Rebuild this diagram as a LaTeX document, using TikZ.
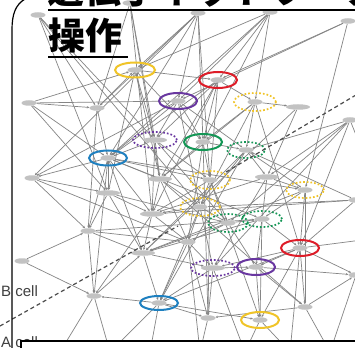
\documentclass[tikz,border=0pt]{standalone}
\usepackage{fontspec}
\newfontfamily\cjk{Noto Sans CJK JP}
\newfontfamily\lab{Liberation Sans}
\usetikzlibrary{shapes.geometric,arrows.meta}
\pgfdeclarelayer{bg}
\pgfdeclarelayer{edges}
\pgfsetlayers{bg,edges,main}
\definecolor{ycol}{RGB}{240,196,40}
\definecolor{rcol}{RGB}{222,28,40}
\definecolor{pcol}{RGB}{105,55,160}
\definecolor{bcol}{RGB}{30,128,192}
\definecolor{gcol}{RGB}{20,150,85}
\tikzset{
  gn/.style={ellipse, fill=black!24, minimum width=15pt, minimum height=5.5pt, inner sep=0pt},
  wn/.style={gn, minimum width=24pt},
  ed/.style={draw=black!48, line width=0.7pt, -{Stealth[length=2.6pt,width=2.2pt]}},
  ex/.style={draw=black!48, line width=0.7pt},
  ring/.style={line width=2pt},
  dring/.style={line width=1.7pt, dotted},
  dashlin/.style={draw=black!70, line width=1.2pt, dash pattern=on 4pt off 3pt},
  lbl/.style={anchor=base west, inner sep=0pt, text=black!75, font=\lab\fontsize{15}{17}\selectfont},
  ttl/.style={anchor=base west, inner sep=0pt, font=\cjk\bfseries\fontsize{37}{40}\selectfont},
}
\begin{document}
\begin{tikzpicture}[x=1pt,y=-1pt]
\useasboundingbox (0,0) rectangle (355,347);
\clip (0,0) rectangle (355,347);
\begin{pgfonlayer}{bg}
\fill[white] (0,0) rectangle (355,347);
\end{pgfonlayer}
% plain nodes
\node[gn] (a) at (38,15) {};
\node[gn] (b) at (130,3) {};
\node[gn] (c) at (198,13) {};
\node[gn] (d) at (270,12) {};
\node[gn] (e) at (348,21) {};
\node[gn] (f) at (29,103) {};
\node[gn] (g) at (97,108) {};
\node[wn] (h) at (298,107) {};
\node[gn] (i) at (350,120) {};
\node[gn] (j) at (32,178) {};
\node[wn] (k) at (160,179) {};
\node[wn] (l) at (108,193) {};
\node[wn] (m) at (267,177) {};
\node[gn] (n) at (356,200) {};
\node[wn] (o) at (152,214) {};
\node[gn] (p) at (88,231) {};
\node[wn] (q) at (143,253) {};
\node[gn] (r) at (188,242) {};
\node[gn] (s) at (22,261) {};
\node[gn] (t) at (94,296) {};
\node[gn] (u) at (356,275) {};
\node[gn] (v) at (305,307) {};
\node[gn] (w) at (208,318) {};
% ringed nodes
\node[gn] (y1) at (135,70) {};
\node[gn] (r1) at (218,80) {};
\node[gn] (p1) at (178,101) {};
\node[gn] (y2) at (255,102) {};
\node[wn] (pd1) at (155,140) {};
\node[gn] (g1) at (203,142) {};
\node[gn] (g2) at (246,150) {};
\node[gn] (b1) at (108,158) {};
\node[gn] (y3) at (210,180) {};
\node[gn] (y4) at (305,190) {};
\node[gn] (y5) at (200,207) {};
\node[gn] (g3) at (228,223) {};
\node[gn] (g4) at (262,219) {};
\node[gn] (r2) at (300,248) {};
\node[wn] (pd2) at (213,268) {};
\node[gn] (p2) at (256,267) {};
\node[gn] (b2) at (159,303) {};
\node[gn] (y6) at (260,320) {};
% exits
\coordinate (z1) at (110,352);
\coordinate (z2) at (150,352);
\coordinate (z3) at (200,352);
\coordinate (z4) at (245,352);
\coordinate (z5) at (290,352);
\coordinate (z6) at (330,352);
\coordinate (z7) at (60,352);
\coordinate (x1) at (362,240);
\coordinate (x2) at (362,150);
\begin{pgfonlayer}{edges}
\foreach \s/\t in {a/g,a/pd1,a/l,a/y5,b/g,b/k,b/pd1,b/o,c/y1,c/g,c/b1,c/p1,c/g1,c/y3,c/j,
 d/r1,d/p1,d/y1,d/g1,d/y2,d/b1,e/r1,e/p1,e/y4,f/y1,f/p1,f/b1,f/l,f/g,g/b1,g/y1,g/p,
 y1/pd1,y1/g1,y1/k,y1/l,y1/r1,r1/b1,r1/g1,r1/y2,r1/pd1,r1/k,r1/o,r1/y3,
 p1/pd1,p1/g1,p1/j,p1/b1,p1/y5,p1/g2,y2/h,y2/g2,y2/k,y2/y5,y2/r2,y2/g1,h/m,h/q,
 i/g2,i/m,i/r2,i/pd2,i/g3,pd1/k,pd1/o,pd1/g3,pd1/y3,pd1/b1,g1/y3,g1/g2,g1/k,g1/r,g1/w,
 g2/m,g2/y4,g2/y5,g2/q,g2/b2,b1/l,b1/k,b1/o,b1/y3,b1/p,b1/q,b1/t,b1/j,b1/y4,b1/g4,
 j/p,j/l,j/r,k/o,k/y5,k/r,k/v,l/p,l/q,l/o,l/g3,m/y4,m/g4,m/pd2,m/o,
 y3/y5,y3/g3,y3/o,y3/w,y3/y6,y4/r2,y4/g4,y4/v,y4/q,n/g2,n/o,n/r2,n/y5,
 y5/o,y5/g3,y5/r,y5/b2,y5/pd2,g3/g4,g3/r,g3/q,g3/p2,g4/r2,g4/p2,g4/y6,g4/q,
 p/r,p/q,s/p,s/t,p/t,p/g4,o/q,o/r,o/t,q/b2,q/pd2,t/q,r/pd2,r/b2,r/w,
 r2/u,r2/p2,r2/v,r2/pd2,r2/y6,r2/b2,pd2/p2,pd2/b2,pd2/w,p2/y6,p2/v,p2/u,b2/t,b2/w,b2/y6,v/w,v/u}
  \draw[ed] (\s) -- (\t);
\foreach \s/\t in {t/z1,b2/z1,b2/z2,w/z3,r/z3,y6/z4,pd2/z4,y6/z5,r2/z5,v/z6,u/z6,t/z7,r2/x1,i/x2}
  \draw[ex] (\s) -- (\t);
\end{pgfonlayer}
% rings
\draw[ring,ycol] (y1) ellipse [x radius=20pt, y radius=7.5pt];
\draw[ring,rcol] (r1) ellipse [x radius=19pt, y radius=8pt];
\draw[ring,pcol] (p1) ellipse [x radius=19pt, y radius=8pt];
\draw[dring,ycol] (y2) ellipse [x radius=21pt, y radius=9pt];
\draw[dring,pcol] (pd1) ellipse [x radius=22pt, y radius=8pt];
\draw[ring,gcol] (g1) ellipse [x radius=19pt, y radius=8pt];
\draw[dring,gcol] (g2) ellipse [x radius=19pt, y radius=8pt];
\draw[ring,bcol] (b1) ellipse [x radius=19pt, y radius=7.5pt];
\draw[dring,ycol] (y3) ellipse [x radius=20pt, y radius=9pt];
\draw[dring,ycol] (y4) ellipse [x radius=19pt, y radius=8pt];
\draw[dring,ycol] (y5) ellipse [x radius=20pt, y radius=9pt];
\draw[dring,gcol] (g3) ellipse [x radius=20pt, y radius=9pt];
\draw[dring,gcol] (g4) ellipse [x radius=20pt, y radius=8pt];
\draw[ring,rcol] (r2) ellipse [x radius=19pt, y radius=8pt];
\draw[dring,pcol] (pd2) ellipse [x radius=22pt, y radius=8pt];
\draw[ring,pcol] (p2) ellipse [x radius=19pt, y radius=8pt];
\draw[ring,bcol] (b2) ellipse [x radius=19pt, y radius=7pt];
\draw[ring,ycol] (y6) ellipse [x radius=19pt, y radius=8pt];
% dashed separators
\coordinate (dl1) at (0,326);
\coordinate (dl2) at (178,226);
\coordinate (du1) at (226,172);
\coordinate (du2) at (356,95);
\draw[dashlin] (dl1) -- (dl2);
\draw[dashlin] (du1) -- (du2);
% labels
\node[lbl] (bl) at (1,296) {B cell};
\node[lbl] (al) at (1,347) {A cell};
% frame
\draw[line width=1.2pt] (25,-1) .. controls (15,5) and (12,15) .. (12,30) -- (12,350);
\filldraw[fill=white, draw=black, line width=1.2pt] (21,341) rectangle (360,360);
% title
\node[ttl] (t1) at (47,4) {遺伝子ネットワーク};
\draw[line width=1.6pt] (48,10) -- (356,10);
\node[ttl] (t2) at (48,50) {操作};
\draw[line width=1.6pt] (48,57) -- (128,57);
\end{tikzpicture}
\end{document}
